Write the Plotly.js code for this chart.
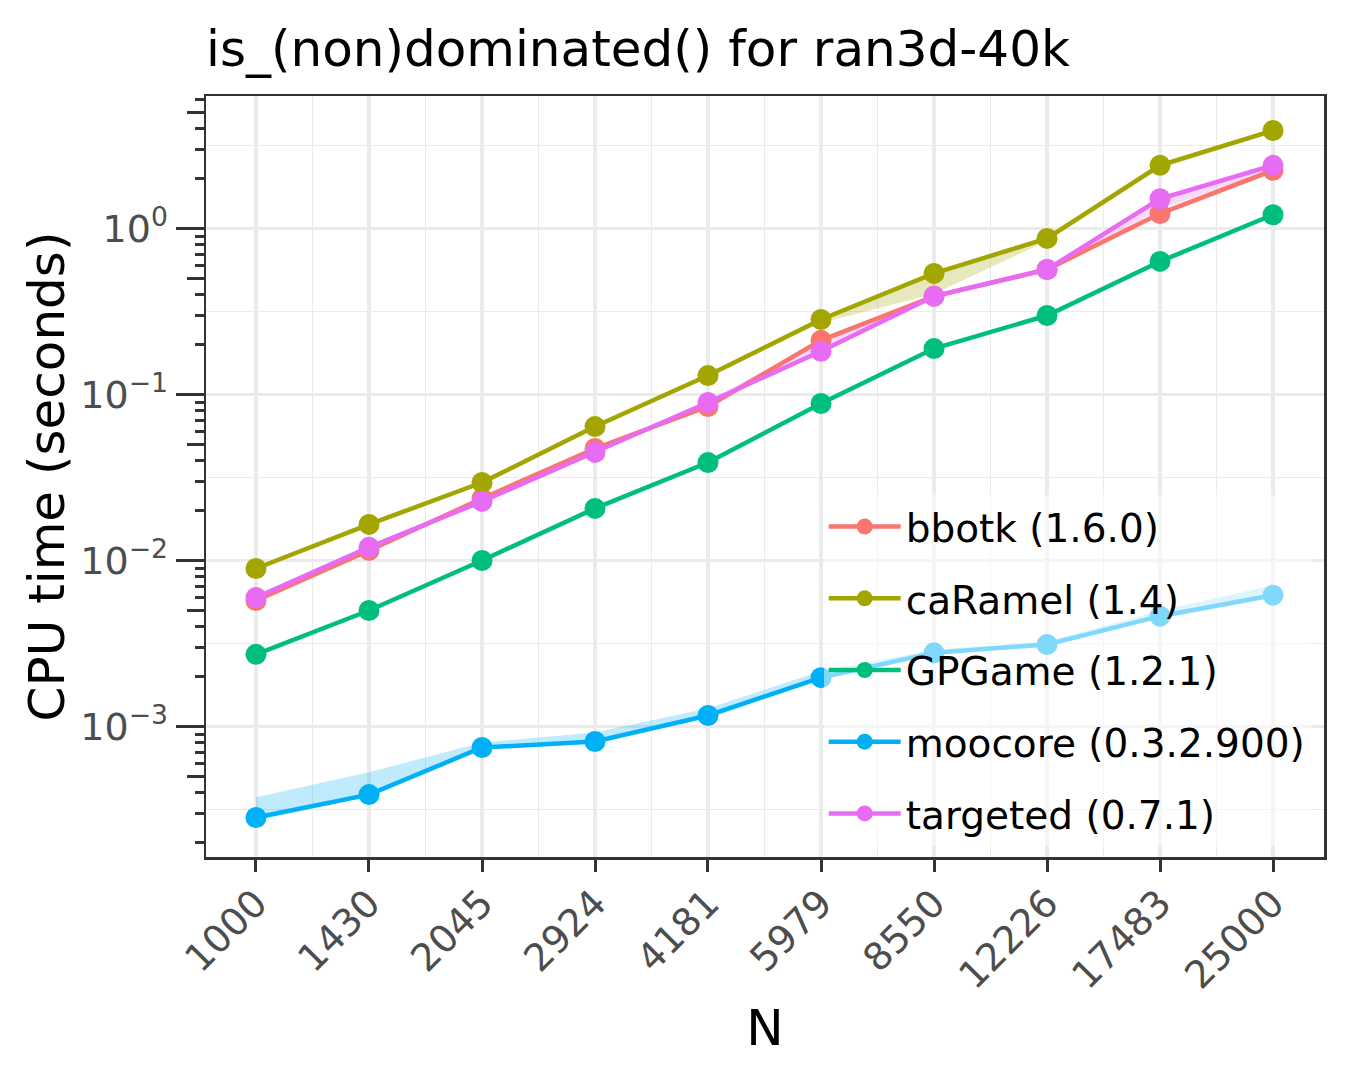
<!DOCTYPE html>
<html>
<head>
<meta charset="utf-8">
<script src="https://cdn.plot.ly/plotly-3.0.1.min.js"></script>
<style>
  html, body { margin: 0; padding: 0; background: #fff; }
  #plot { width: 1350px; height: 1080px; }
</style>
</head>
<body>
<div id="plot"></div>
<script>
// problem sizes (x axis)
const N = [1000, 1430, 2045, 2924, 4181, 5979, 8550, 12226, 17483, 25000]
const tickLabels = ['1000', '1430', '2045', '2924', '4181', '5979', '8550', '12226', '17483', '25000']

// median CPU time (seconds) and min/max band per package
const bbotk = [0.00574, 0.0115, 0.0236, 0.0473, 0.0847, 0.212, 0.390, 0.566, 1.23, 2.24]
const bbotkLo = [0.0055, 0.0111, 0.0229, 0.0462, 0.0826, 0.205, 0.380, 0.550, 1.20, 2.18]
const bbotkHi = [0.0060, 0.0119, 0.0243, 0.0485, 0.0870, 0.218, 0.400, 0.580, 1.26, 2.30]

const caRamel = [0.00895, 0.0165, 0.0295, 0.0641, 0.130, 0.283, 0.536, 0.871, 2.40, 3.89]
const caRamelLo = [0.0087, 0.0161, 0.0288, 0.0625, 0.127, 0.270, 0.405, 0.840, 2.30, 3.80]
const caRamelHi = [0.0092, 0.0169, 0.0302, 0.0657, 0.133, 0.290, 0.550, 0.890, 2.46, 3.98]

const gpgame = [0.00272, 0.0050, 0.0100, 0.0206, 0.0389, 0.0883, 0.189, 0.299, 0.633, 1.21]
const gpgameLo = [0.00266, 0.0049, 0.0098, 0.0202, 0.0381, 0.0866, 0.185, 0.293, 0.620, 1.19]
const gpgameHi = [0.00278, 0.0051, 0.0102, 0.0210, 0.0397, 0.0900, 0.193, 0.305, 0.646, 1.23]

const moocore = [0.000283, 0.000389, 0.000747, 0.000812, 0.001165, 0.00197, 0.00278, 0.00312, 0.00462, 0.00618]
const moocoreLo = [0.000272, 0.000380, 0.000730, 0.000795, 0.00114, 0.00193, 0.00272, 0.00305, 0.00452, 0.00605]
const moocoreHi = [0.000375, 0.000530, 0.000800, 0.000920, 0.00129, 0.00215, 0.00290, 0.00325, 0.00500, 0.00710]

const targeted = [0.00598, 0.0120, 0.0227, 0.0448, 0.0895, 0.182, 0.391, 0.566, 1.51, 2.40]
const targetedLo = [0.0058, 0.0116, 0.0221, 0.0436, 0.0872, 0.177, 0.380, 0.550, 1.30, 2.28]
const targetedHi = [0.0062, 0.0124, 0.0234, 0.0460, 0.0920, 0.210, 0.400, 0.580, 1.56, 2.47]

const series = [
  { name: 'bbotk (1.6.0)', y: bbotk, lo: bbotkLo, hi: bbotkHi, color: '#F8766D', fill: 'rgba(248,118,109,0.25)' },
  { name: 'caRamel (1.4)', y: caRamel, lo: caRamelLo, hi: caRamelHi, color: '#A3A500', fill: 'rgba(163,165,0,0.25)' },
  { name: 'GPGame (1.2.1)', y: gpgame, lo: gpgameLo, hi: gpgameHi, color: '#00BF7D', fill: 'rgba(0,191,125,0.25)' },
  { name: 'moocore (0.3.2.900)', y: moocore, lo: moocoreLo, hi: moocoreHi, color: '#00B0F6', fill: 'rgba(0,176,246,0.25)' },
  { name: 'targeted (0.7.1)', y: targeted, lo: targetedLo, hi: targetedHi, color: '#E76BF3', fill: 'rgba(231,107,243,0.25)' },
]

const font = 'DejaVu Sans, Liberation Sans, sans-serif'

let data = []
// ribbons first, lines and points on top
series.map(s => {
  data.push({
    x: N.concat(N.slice().reverse()),
    y: s.hi.concat(s.lo.slice().reverse()),
    type: 'scatter', mode: 'lines', fill: 'toself',
    fillcolor: s.fill, line: { width: 0 },
    legendgroup: s.name, showlegend: false, hoverinfo: 'skip',
  })
})
series.map(s => {
  data.push({
    x: N, y: s.y, name: s.name,
    type: 'scatter', mode: 'lines+markers',
    line: { color: s.color, width: 4.5 },
    marker: { color: s.color, size: 21 },
    legendgroup: s.name,
  })
})

// log tick positions for the y axis
const decades = [-4, -3, -2, -1, 0]
let majorY = [], midY = [], minorY = [], halfY = []
decades.map(d => {
  majorY.push(Math.pow(10, d))
  midY.push(5 * Math.pow(10, d))
  halfY.push(Math.pow(10, d + 0.5));
  [2, 3, 4, 6, 7, 8, 9].map(k => minorY.push(k * Math.pow(10, d)))
})
majorY.push(10)
const majorText = majorY.map(v => '10<sup>' + String(Math.round(Math.log10(v))).replace('-', '\u2212') + '</sup>')

// x minor grid halfway between the breaks
let midX = []
for (let i = 0; i < N.length - 1; i++) midX.push(Math.sqrt(N[i] * N[i + 1]))

const yRange = [-3.786, 0.798]

const layout = {
  width: 1350, height: 1080,
  margin: { l: 206, r: 26, t: 96, b: 223 },
  paper_bgcolor: '#fff', plot_bgcolor: '#fff',
  font: { family: font, color: '#000' },
  title: {
    text: 'is_(non)dominated() for ran3d-40k',
    font: { size: 50, color: '#000', family: font },
    xref: 'paper', x: 0, xanchor: 'left',
    yref: 'container', y: 0.955, yanchor: 'middle',
  },
  xaxis: {
    type: 'log', range: [2.9313, 4.4680],
    tickmode: 'array', tickvals: N, ticktext: tickLabels,
    tickangle: -45, tickfont: { size: 38, color: '#4D4D4D' },
    ticklabelstandoff: -6,
    ticks: 'outside', ticklen: 12, tickwidth: 3, tickcolor: '#333333',
    showgrid: true, gridcolor: '#EBEBEB', gridwidth: 3.5,
    minor: { tickmode: 'array', tickvals: midX, showgrid: true, gridcolor: '#EBEBEB', gridwidth: 1.8, ticks: '' },
    showline: true, mirror: true, linecolor: '#333333', linewidth: 2.5,
    zeroline: false,
    title: { text: 'N', font: { size: 50, color: '#000' }, standoff: 14 },
  },
  yaxis: {
    type: 'log', range: yRange,
    tickmode: 'array', tickvals: majorY, ticktext: majorText,
    tickfont: { size: 38, color: '#4D4D4D' },
    ticks: 'outside', ticklen: 28, tickwidth: 3, tickcolor: '#333333',
    showgrid: true, gridcolor: '#EBEBEB', gridwidth: 3.5,
    minor: { tickmode: 'array', tickvals: minorY, showgrid: false, ticks: 'outside', ticklen: 9, tickwidth: 3, tickcolor: '#333333' },
    showline: true, mirror: true, linecolor: '#333333', linewidth: 2.5,
    zeroline: false,
    title: { text: 'CPU time (seconds)', font: { size: 50, color: '#000' }, standoff: 0 },
  },
  yaxis2: {
    type: 'log', range: yRange, overlaying: 'y', side: 'left',
    tickmode: 'array', tickvals: midY, showticklabels: false,
    ticks: 'outside', ticklen: 18, tickwidth: 3, tickcolor: '#333333',
    showgrid: false, zeroline: false, showline: false,
    minor: { tickmode: 'array', tickvals: halfY, showgrid: true, gridcolor: '#EBEBEB', gridwidth: 1.8, ticks: '' },
  },
  legend: {
    x: 0.5525, y: 0.476, xanchor: 'left', yanchor: 'top',
    bgcolor: 'rgba(255,255,255,0.5)', borderwidth: 0,
    font: { size: 39, color: '#000', family: font },
    itemwidth: 72,
    tracegroupgap: 18,
  },
  showlegend: true,
}

// dummy trace so the overlay axis is drawn
data.unshift({ x: [N[0]], y: [moocore[0]], yaxis: 'y2', type: 'scatter', mode: 'markers',
  marker: { opacity: 0 }, showlegend: false, hoverinfo: 'skip' })

Plotly.newPlot('plot', data, layout, { staticPlot: true })
</script>
</body>
</html>
